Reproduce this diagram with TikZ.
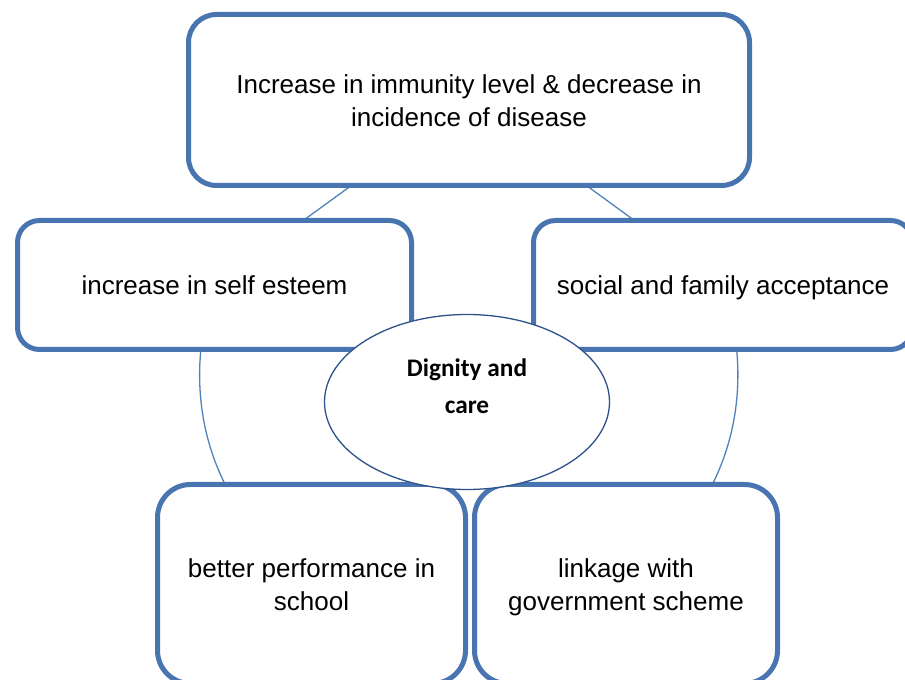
\documentclass[tikz,border=0pt]{standalone}
\usepackage{fontspec}
\setmainfont{Liberation Sans}
\newfontfamily\calfont{Carlito}
\usetikzlibrary{shapes.geometric}
\pgfdeclarelayer{bg}
\pgfsetlayers{bg,main}
\definecolor{boxblue}{RGB}{72,117,176}
\definecolor{linkblue}{RGB}{79,129,189}
\definecolor{hubblue}{RGB}{45,82,140}
% line strut for the card texts
\newcommand\linestrut{\rule[-6.9pt]{0pt}{33pt}}
\tikzset{
  card/.style={draw=boxblue, line width=5pt, fill=white, rectangle,
    inner sep=0pt, align=center, font=\fontsize{26}{33}\selectfont},
  hub/.style={draw=hubblue, line width=1.3pt, fill=white, ellipse,
    inner sep=0pt, minimum width=285pt, minimum height=175pt},
  hublabel/.style={align=center, inner sep=0pt,
    font=\calfont\bfseries\fontsize{25.3}{37}\selectfont},
  link/.style={draw=linkblue, line width=1.3pt}
}
\begin{document}
\begin{tikzpicture}[x=1pt,y=1pt]
\useasboundingbox (0,0) rectangle (905,680);
% outer ring of cards
\node[card, minimum width=561pt, minimum height=171pt, rounded corners=28pt] (T) at (469,580)
  {\linestrut Increase in immunity level \& decrease in\\\linestrut incidence of disease};
\node[card, minimum width=394pt, minimum height=129pt, rounded corners=22pt] (L) at (214.5,395)
  {\linestrut increase in self esteem};
\node[card, minimum width=379pt, minimum height=129pt, rounded corners=22pt] (R) at (723,395)
  {\linestrut social and family acceptance};
\node[card, minimum width=308pt, minimum height=199pt, rounded corners=33pt] (BL) at (311.5,96)
  {\linestrut better performance in\\\linestrut school};
\node[card, minimum width=303pt, minimum height=199pt, rounded corners=33pt] (BR) at (626,96)
  {\linestrut linkage with\\\linestrut government scheme};
% central hub
\node[hub] (C) at (467,278) {};
\node[hublabel] (Ct) at (467,294) {Dignity and\\care};
% cycle connectors behind the cards
\begin{pgfonlayer}{bg}
  \draw[link] (T.center) -- (L.center);
  \draw[link] (T.center) -- (R.center);
  \draw[link] (L.center) to[bend right=36] (BL.center);
  \draw[link] (R.center) to[bend left=36] (BR.center);
\end{pgfonlayer}
\end{tikzpicture}
\end{document}
